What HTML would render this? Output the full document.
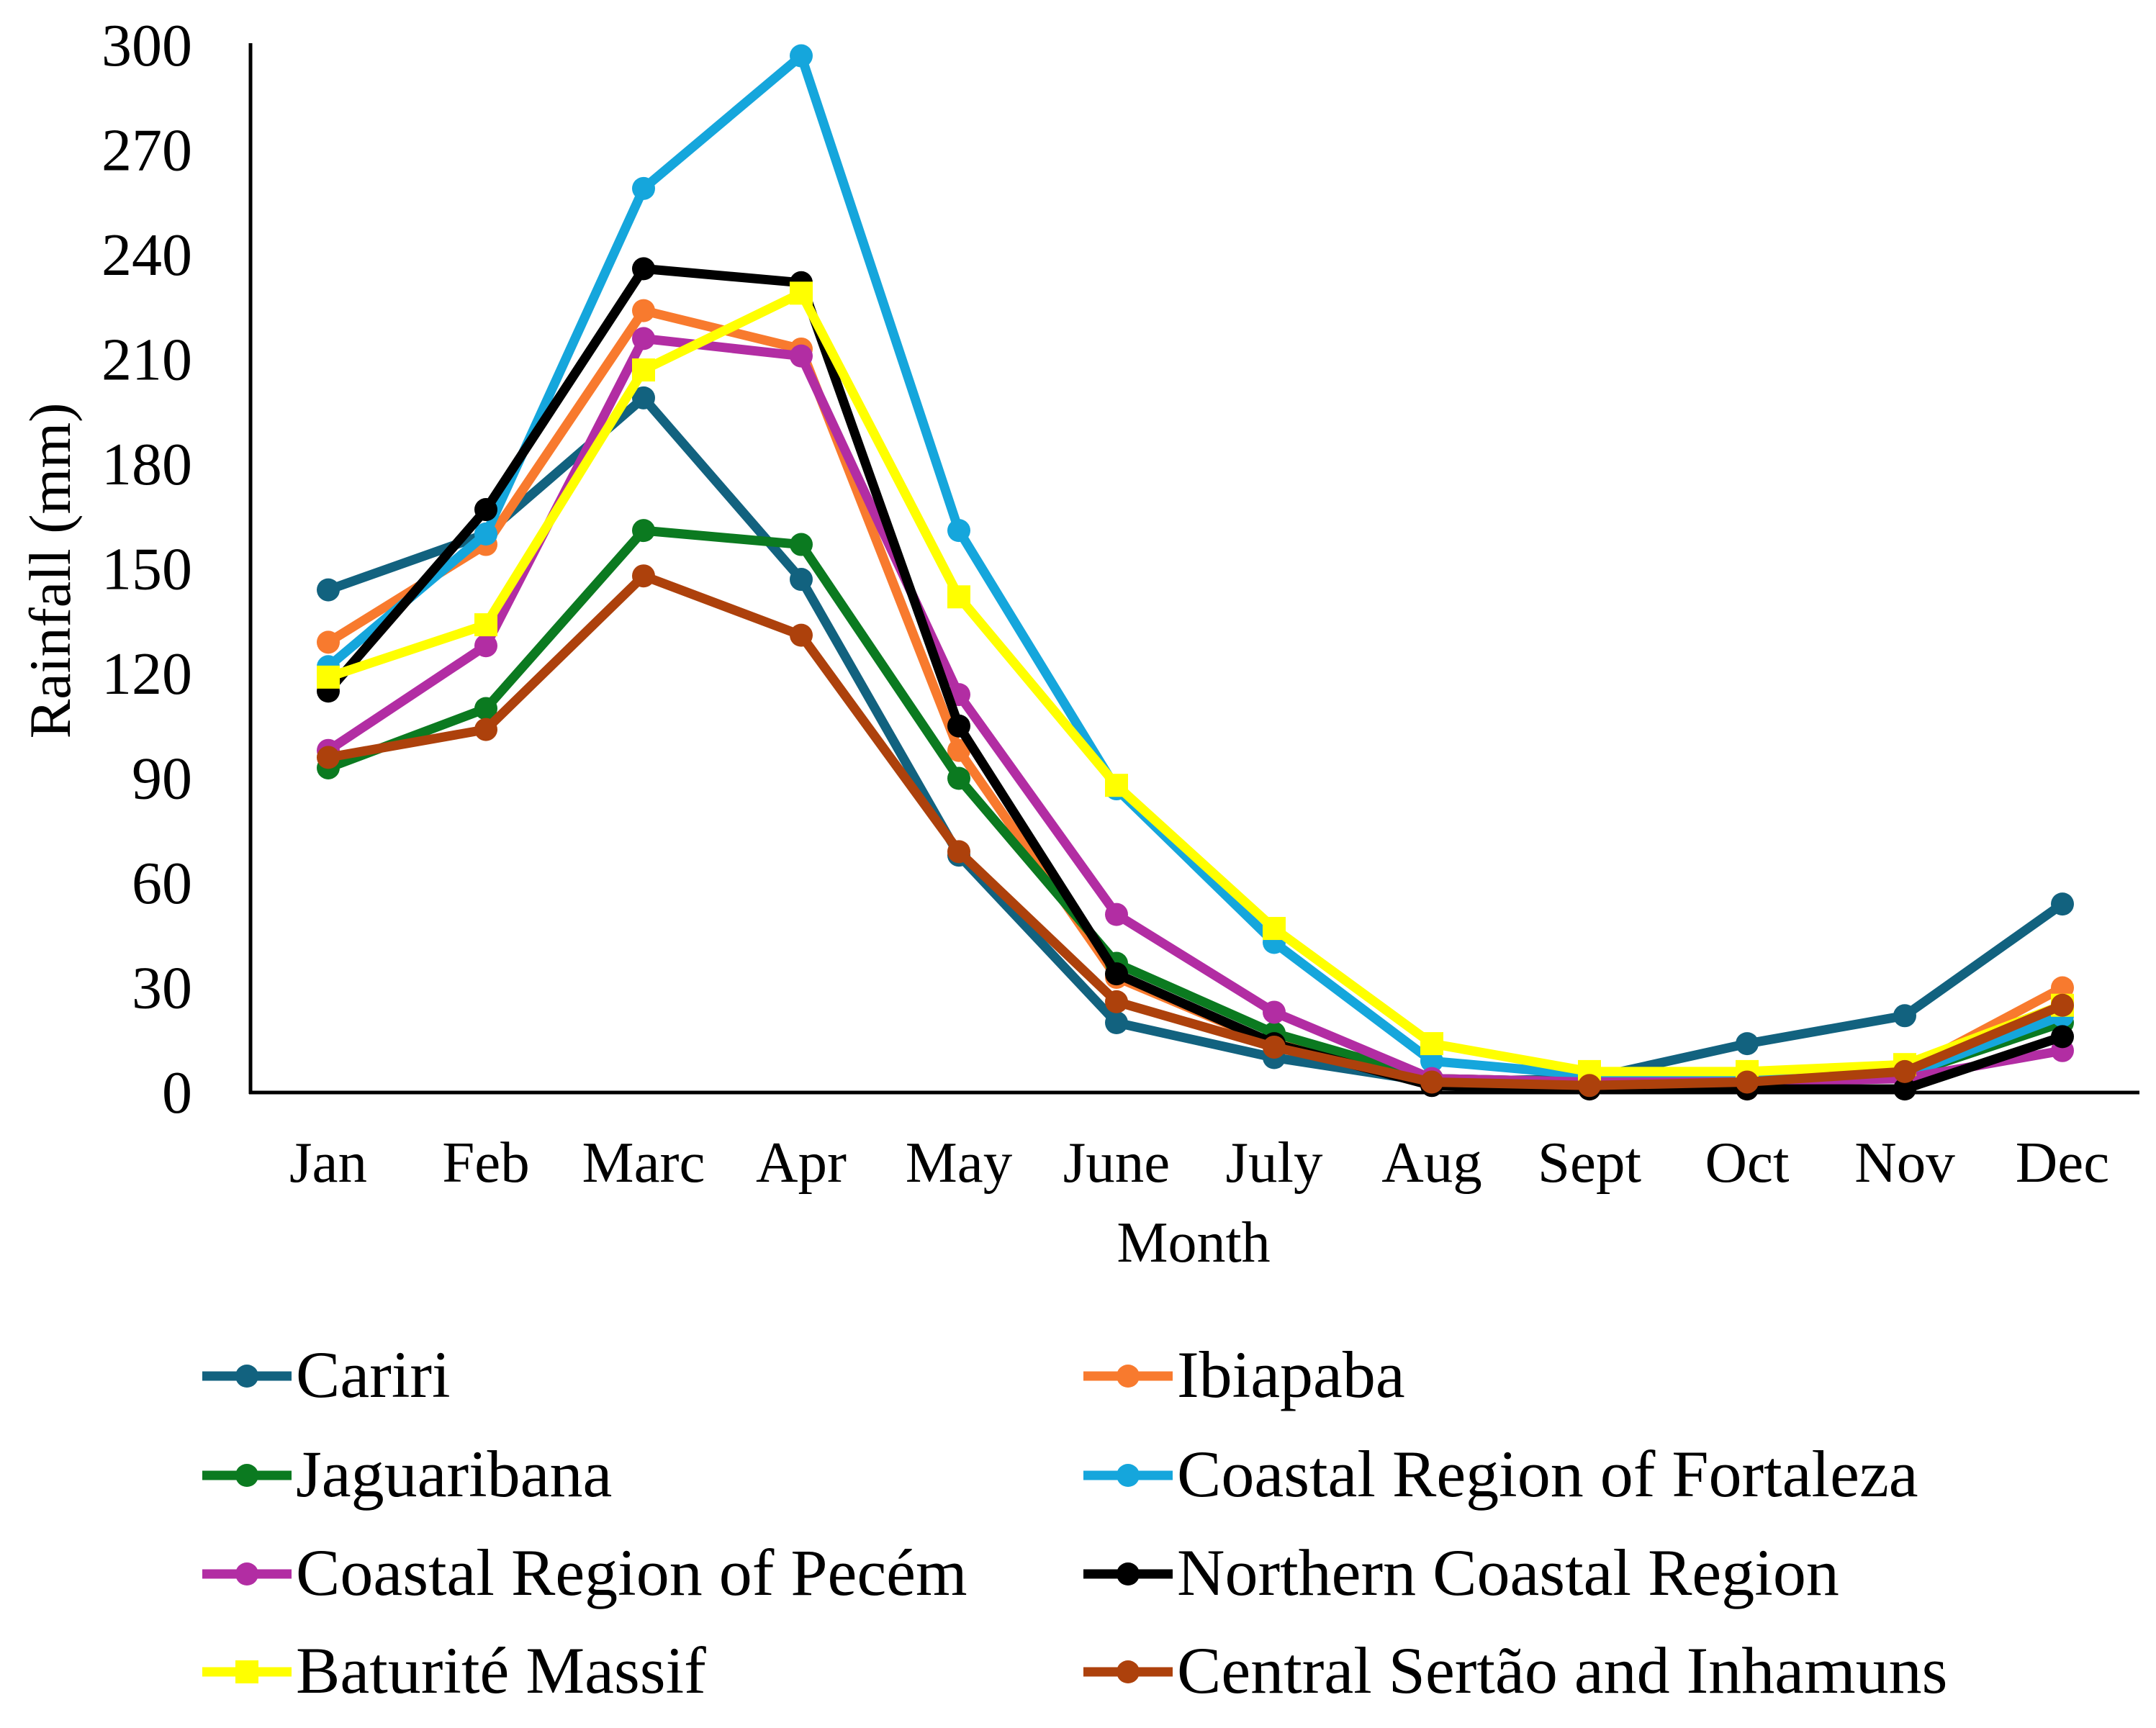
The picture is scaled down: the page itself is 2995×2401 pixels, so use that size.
<!DOCTYPE html>
<html><head><meta charset="utf-8"><style>
html,body{margin:0;padding:0;background:#fff}
svg{display:block}
text{font-family:"Liberation Serif",serif;fill:#000}
</style></head><body>
<svg id="chart" width="2995" height="2401" viewBox="0 0 2995 2401" xmlns="http://www.w3.org/2000/svg">
<g id="axes"></g>
<g id="series"></g>
<g id="legend"></g>
</svg>
<script>
const months = ["Jan","Feb","Marc","Apr","May","June","July","Aug","Sept","Oct","Nov","Dec"];
const yTicks = [0,30,60,90,120,150,180,210,240,270,300];
const seriesNames = ["Cariri","Ibiapaba","Jaguaribana","Coastal Region of Fortaleza","Coastal Region of Pecém","Northern Coastal Region","Baturité Massif","Central Sertão and Inhamuns"];
const cariri = [144,160,199,147,68,20,10,3,4,14,22,54];
const ibiapaba = [129,157,224,213,98,33,14,4,3,4,6,30];
const jaguaribana = [93,110,161,157,90,37,17,4,3,3,5,20];
const fortaleza = [122,160,259,297,161,87,43,9,5,4,5,22];
const pecem = [98,128,216,211,114,51,23,4,3,3,4,12];
const northern = [115,167,236,232,105,34,14,2,1,1,1,16];
const baturite = [119,134,207,229,142,88,47,14,6,6,8,25];
const central = [96,104,148,131,69,26,13,3,2,3,6,25];
const seriesValues = [cariri,ibiapaba,jaguaribana,fortaleza,pecem,northern,baturite,central];
const seriesColors = ["#12627f","#f87a2e","#0b7a20","#15a6dc","#b22da3","#000000","#ffff00","#ad410c"];
const seriesKeys = ["cariri","ibiapaba","jaguaribana","fortaleza","pecem","northern","baturite","central"];

const NS="http://www.w3.org/2000/svg";
const X0=456, XSTEP=219, Y0=1518, Y300=63;
function xs(i){return X0+i*XSTEP;}
function ys(v){return Y0-(v/300)*(Y0-Y300);}
function mk(tag,attrs,parent){const e=document.createElementNS(NS,tag);for(const k in attrs)e.setAttribute(k,attrs[k]);parent.appendChild(e);return e;}

const axes=document.getElementById('axes');
let a=mk('line',{x1:348,y1:60,x2:348,y2:1520,stroke:'#000','stroke-width':5},axes);


a=mk('line',{x1:346,y1:1518,x2:2972,y2:1518,stroke:'#000','stroke-width':5},axes);


yTicks.forEach(v=>{
  const t=mk('text',{x:267,y:ys(v)+28,'text-anchor':'end','font-size':84},axes);
  t.textContent=v;
  
  
});
months.forEach((m,i)=>{
  const t=mk('text',{x:xs(i),y:1642,'text-anchor':'middle','font-size':81},axes);
  t.textContent=m;
  
  
});
let t=mk('text',{x:1658,y:1753,'text-anchor':'middle','font-size':80},axes);
t.textContent='Month';


t=mk('text',{x:0,y:0,'text-anchor':'middle','font-size':82,transform:'translate(97,793) rotate(-90)'},axes);
t.textContent='Rainfall (mm)';



const sg=document.getElementById('series');
seriesValues.forEach((vals,s)=>{
  const g=mk('g',{},sg);
  
  
  const pts=vals.map((v,i)=>xs(i)+','+ys(v)).join(' ');
  const pl=mk('polyline',{points:pts,fill:'none',stroke:seriesColors[s],'stroke-width':13,'stroke-linejoin':'round'},g);
  
  
  vals.forEach((v,i)=>{
    let m;
    if(s===6){m=mk('rect',{x:xs(i)-16,y:ys(v)-16,width:32,height:32,fill:seriesColors[s]},g);}
    else{m=mk('circle',{cx:xs(i),cy:ys(v),r:16,fill:seriesColors[s]},g);}
    
    
  });
});

const lg=document.getElementById('legend');
const rowsY=[1912,2050,2187,2323];
seriesNames.forEach((n,s)=>{
  const col=s%2, row=Math.floor(s/2);
  const lx=col===0?281:1505, y=rowsY[row];
  const g=mk('g',{},lg);
  
  
  mk('line',{x1:lx,y1:y,x2:lx+124,y2:y,stroke:seriesColors[s],'stroke-width':13},g);
  if(s===6)mk('rect',{x:lx+62-16,y:y-16,width:32,height:32,fill:seriesColors[s]},g);
  else mk('circle',{cx:lx+62,cy:y,r:16,fill:seriesColors[s]},g);
  const tx=mk('text',{x:lx+130,y:y+29,'font-size':92},g);
  tx.textContent=n;
});
</script>
</body></html>
